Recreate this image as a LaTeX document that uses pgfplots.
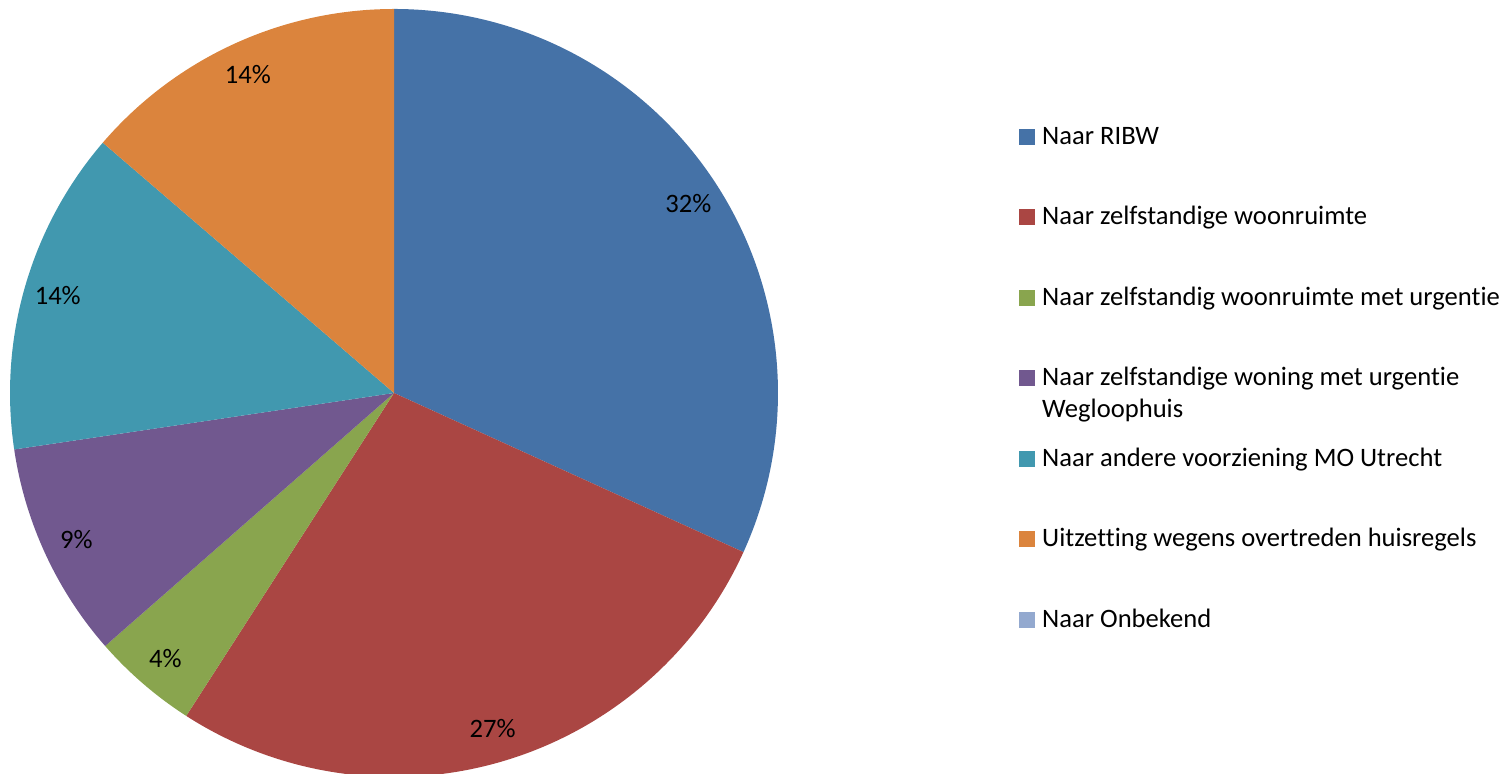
\documentclass[border=0pt]{standalone}
\usepackage{pgfplots}
\usepackage{pgfplotstable}
\pgfplotsset{compat=1.18}
\usepackage{fontspec}
\setmainfont{Carlito}[Ligatures={NoCommon,NoRequired,NoContextual,NoRare},Contextuals=NoAlternate]
\definecolor{c0}{HTML}{4572A7}
\definecolor{c1}{HTML}{AA4643}
\definecolor{c2}{HTML}{89A54E}
\definecolor{c3}{HTML}{71588F}
\definecolor{c4}{HTML}{4198AF}
\definecolor{c5}{HTML}{DB843D}
\definecolor{c6}{HTML}{93A9CF}
\pgfkeys{/pgf/number format/assume math mode=true}
% share of each category in percent (Naar Onbekend = 0)
\pgfplotstableread[col sep=comma]{
share
31.8
27.3
4.45
9.1
13.65
13.7
0
}\piedata
\newcommand\chartfont{\fontsize{13.3}{16}\selectfont}
\gdef\cumsum{0}%
\pgfplotsforeachungrouped \i in {0,...,6}{%
  \pgfplotstablegetelem{\i}{share}\of\piedata
  \pgfmathsetmacro\va{\pgfplotsretval}%
  \pgfmathsetmacro\sa{90-3.6*\cumsum}%
  \pgfmathsetmacro\ea{90-3.6*(\cumsum+\va)}%
  \pgfmathsetmacro\ma{(\sa+\ea)/2}%
  \pgfmathprintnumberto[fixed,precision=0]{\va}\lab
  \expandafter\xdef\csname sa\i\endcsname{\sa}%
  \expandafter\xdef\csname ea\i\endcsname{\ea}%
  \expandafter\xdef\csname ma\i\endcsname{\ma}%
  \expandafter\xdef\csname lab\i\endcsname{\lab}%
  \pgfmathsetmacro\cumsum{\cumsum+\va}%
  \xdef\cumsum{\cumsum}%
}%
\begin{document}
\begin{tikzpicture}
\begin{axis}[
  hide axis, scale only axis,
  width=756pt, height=387pt,
  xmin=0, xmax=1512, ymin=0, ymax=774,
  legend style={at={(axis cs:1019,648)}, anchor=north west,
    draw=none, fill=none, inner sep=0pt, row sep=0pt, column sep=0pt,
    nodes={font=\chartfont, inner sep=0pt, text height=9pt, text depth=31.25pt}},
  legend cell align=left,
  legend image code/.code={\fill[#1] (0pt,11.325pt) rectangle (7.5pt,18.825pt); \path (0pt,11pt) (11pt,11pt);},
]
\path (axis cs:0,0) rectangle (axis cs:1512,774);
\pgfplotsinvokeforeach{0,...,5}{
  \fill[c#1] (axis cs:394,381) -- ++(\csname sa#1\endcsname:192pt)
    arc[start angle=\csname sa#1\endcsname, end angle=\csname ea#1\endcsname, radius=192pt] -- cycle;
}
\pgfplotsinvokeforeach{0,...,5}{
  \path (axis cs:394,381) ++(\csname ma#1\endcsname:175pt) node[font=\chartfont, inner sep=0pt] {\csname lab#1\endcsname\%};
}
\addlegendimage{c0}\addlegendentry{Naar RIBW}
\addlegendimage{c1}\addlegendentry{Naar zelfstandige woonruimte}
\addlegendimage{c2}\addlegendentry{Naar zelfstandig woonruimte met urgentie}
\addlegendimage{c3}\addlegendentry{\vtop{\hbox{Naar zelfstandige woning met urgentie}\hbox{Wegloophuis}}}
\addlegendimage{c4}\addlegendentry{Naar andere voorziening MO Utrecht}
\addlegendimage{c5}\addlegendentry{Uitzetting wegens overtreden huisregels}
\addlegendimage{c6}\addlegendentry{Naar Onbekend}
\end{axis}
\end{tikzpicture}
\end{document}
